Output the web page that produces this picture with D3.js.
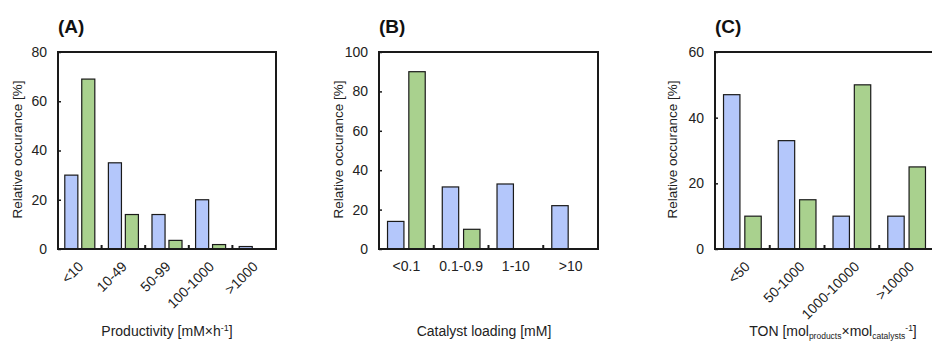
<!DOCTYPE html>
<html>
<head>
<meta charset="utf-8">
<script src="https://cdn.jsdelivr.net/npm/d3@7"></script>
<style>
  body { margin: 0; background: #fff; }
  svg { display: block; font-family: "Liberation Sans", Arial, sans-serif; }
</style>
</head>
<body>
<script>
// panel A - productivity
const catsA = ["<10", "10-49", "50-99", "100-1000", ">1000"];
const blueA = [30, 35, 14, 20, 1];
const greenA = [69, 14, 3.5, 1.8, 0];

// panel B - catalyst loading
const catsB = ["<0.1", "0.1-0.9", "1-10", ">10"];
const blueB = [14, 31.5, 33, 22];
const greenB = [90, 10, 0, 0];

// panel C - TON
const catsC = ["<50", "50-1000", "1000-10000", ">10000"];
const blueC = [47, 33, 10, 10];
const greenC = [10, 15, 50, 25];

const yTicksA = [0, 20, 40, 60, 80];
const yTicksB = [0, 20, 40, 60, 80, 100];
const yTicksC = [0, 20, 40, 60];

const blue = "#b4c7fb", green = "#a9d18e", ink = "#1a1a1a";

const svg = d3.select("body").append("svg")
  .attr("width", 932).attr("height", 343);

function panel(opt) {
  const top = 52, bottom = 249;
  const x0 = d3.scaleBand().domain(opt.cats).range([opt.left, opt.right]).padding(0);
  const x1 = d3.scaleBand().domain([0, 1]).range([0, x0.bandwidth()])
    .paddingInner(0.23).paddingOuter(0.4);
  const y = d3.scaleLinear().domain([0, opt.ymax]).range([bottom, top]);
  const g = svg.append("g");

  // bars
  const rows = opt.cats.map((c, i) => ({ c, v: [opt.blue[i], opt.green[i]] }));
  rows.forEach(r => {
    r.v.forEach((v, k) => {
      if (v <= 0) return;
      g.append("rect")
        .attr("x", x0(r.c) + x1(k))
        .attr("y", y(v))
        .attr("width", x1.bandwidth())
        .attr("height", y(0) - y(v))
        .attr("fill", k === 0 ? blue : green)
        .attr("stroke", ink)
        .attr("stroke-width", 1.2);
    });
  });

  // frame
  g.append("rect")
    .attr("x", opt.left).attr("y", top)
    .attr("width", opt.right - opt.left).attr("height", bottom - top)
    .attr("fill", "none").attr("stroke", ink).attr("stroke-width", 2);

  // y axis (ticks pointing inward)
  const ya = g.append("g").attr("transform", `translate(${opt.left},0)`)
    .call(d3.axisLeft(y).tickValues(opt.yticks).tickSize(-3).tickPadding(11));
  ya.select(".domain").remove();
  ya.selectAll("line").attr("stroke", ink).attr("stroke-width", 1.5);
  ya.selectAll("text").attr("font-size", 14).attr("fill", "#222")
    .attr("font-family", "Liberation Sans, Arial, sans-serif");

  // category separator ticks
  opt.cats.slice(1).forEach(c => {
    g.append("line")
      .attr("x1", x0(c)).attr("x2", x0(c))
      .attr("y1", bottom).attr("y2", bottom - 4)
      .attr("stroke", ink).attr("stroke-width", 2);
  });

  // x labels
  opt.cats.forEach(c => {
    const cx = x0(c) + x0.bandwidth() / 2;
    if (opt.rotate) {
      g.append("text")
        .attr("transform", `translate(${cx + opt.dx},${bottom + 15}) rotate(-45)`)
        .attr("text-anchor", "end").attr("dy", "0.35em")
        .attr("font-size", 14).attr("fill", "#222").text(c);
    } else {
      g.append("text")
        .attr("x", cx).attr("y", bottom + 22)
        .attr("text-anchor", "middle")
        .attr("font-size", 14).attr("fill", "#222").text(c);
    }
  });

  // y title
  g.append("text")
    .attr("transform", `translate(${opt.ytitleX},${(top + bottom) / 2 - 1}) rotate(-90)`)
    .attr("text-anchor", "middle").attr("dy", "0.35em")
    .attr("font-size", 13.5).attr("fill", "#222").text("Relative occurance [%]");

  // panel letter
  g.append("text")
    .attr("x", opt.left).attr("y", 33)
    .attr("font-size", 19).attr("font-weight", "bold").attr("fill", "#111")
    .text(opt.letter);

  // x title
  const xt = g.append("text")
    .attr("x", opt.xtitleX).attr("y", 336)
    .attr("text-anchor", "middle").attr("font-size", 14).attr("fill", "#222");
  opt.xtitle(xt);
}

panel({
  cats: catsA, blue: blueA, green: greenA, ymax: 80, yticks: yTicksA,
  left: 58, right: 276, rotate: true, dx: 1, ytitleX: 17, letter: "(A)", xtitleX: 167,
  xtitle: t => {
    t.append("tspan").text("Productivity [mM×h");
    t.append("tspan").attr("font-size", 9).attr("dy", -5).text("-1");
    t.append("tspan").attr("dy", 5).text("]");
  }
});

panel({
  cats: catsB, blue: blueB, green: greenB, ymax: 100, yticks: yTicksB,
  left: 379, right: 598, rotate: false, dx: 0, ytitleX: 338, letter: "(B)", xtitleX: 484,
  xtitle: t => t.text("Catalyst loading [mM]")
});

panel({
  cats: catsC, blue: blueC, green: greenC, ymax: 60, yticks: yTicksC,
  left: 715, right: 934, rotate: true, dx: 5, ytitleX: 672, letter: "(C)", xtitleX: 833,
  xtitle: t => {
    t.append("tspan").text("TON [mol");
    t.append("tspan").attr("font-size", 8.5).attr("dy", 3).text("products");
    t.append("tspan").attr("dy", -3).text("×mol");
    t.append("tspan").attr("font-size", 8.5).attr("dy", 3).text("catalysts");
    t.append("tspan").attr("font-size", 8.5).attr("dy", -8).text("-1");
    t.append("tspan").attr("dy", 5).text("]");
  }
});
</script>
</body>
</html>
